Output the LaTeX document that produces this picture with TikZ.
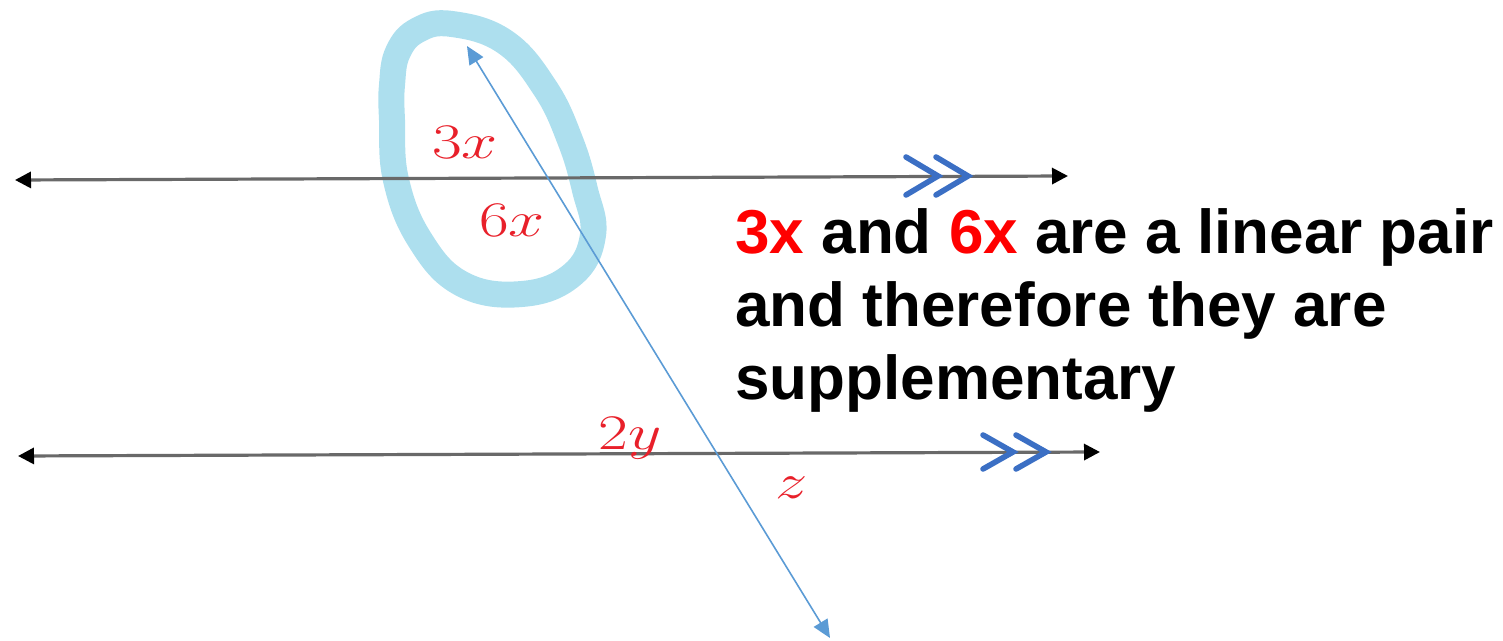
\documentclass[tikz,border=0pt]{standalone}
\usepackage{fontspec}
\newfontfamily\arialb{Liberation Sans}[BoldFont={Liberation Sans Bold}]
\usetikzlibrary{arrows.meta,calc}
\definecolor{hl}{RGB}{173,223,238}
\definecolor{tblue}{RGB}{91,155,213}
\definecolor{chev}{RGB}{59,111,196}
\definecolor{hred}{RGB}{232,32,42}
\definecolor{lgray}{RGB}{105,105,105}
\tikzset{
  parline/.style={lgray, line width=1.6pt, {Triangle[length=8pt,width=8pt,black]}-{Triangle[length=8pt,width=8pt,black]}},
  transv/.style={tblue, line width=0.8pt, {Triangle[length=9pt,width=8pt]}-{Triangle[length=9pt,width=8pt]}},
  chevron/.style={chev, line width=2.8pt, line cap=round, line join=miter},
  hand/.style={text=hred, font=\fontsize{38}{38}\selectfont, inner sep=0pt},
  highlight/.style={hl, line width=13pt, line join=round},
  body/.style={font=\arialb\bfseries\fontsize{31}{36.5}\selectfont, align=left, inner sep=0pt}
}
\newcommand{\hw}[1]{\scalebox{1.3}[1]{$#1$}}
\begin{document}
\begin{tikzpicture}[x=0.5pt,y=-0.5pt]
\useasboundingbox (0,0) rectangle (1503,641);
% highlight loop
\draw[highlight] plot[smooth cycle, tension=0.7] coordinates {
  (452,24) (505,42) (545,88) (570,140) (585,190) (593,235) (572,275)
  (522,294) (462,284) (420,240) (396,180) (392,120) (392,85) (398,52) (418,30)};
% coordinates
\coordinate (t1) at (15,180);
\coordinate (t2) at (1068,176);
\coordinate (b1) at (18,456);
\coordinate (b2) at (1100,452);
\coordinate (s1) at (467,46);
\coordinate (s2) at (830,638);
% parallel lines
\draw[parline] (t1) -- (t2);
\draw[parline] (b1) -- (b2);
% transversal
\draw[transv] (s1) -- (s2);
% chevrons
\coordinate (c1) at (938,176);
\coordinate (c2) at (968,176);
\coordinate (c3) at (1013,452);
\coordinate (c4) at (1046,452);
\foreach \c in {c1,c2} \draw[chevron] ($(\c)+(-32,-19)$) -- (\c) -- ($(\c)+(-32,19)$);
\foreach \c in {c3,c4} \draw[chevron] ($(\c)+(-30,-17)$) -- (\c) -- ($(\c)+(-30,17)$);
% handwritten labels
\node[hand] (l3x) at (465,142) {\hw{3x}};
\node[hand] (l6x) at (512,220) {\hw{6x}};
\node[hand] (l2y) at (630,438) {\hw{2y}};
\node[hand, font=\fontsize{30}{30}\selectfont] (lz) at (792,488) {\hw{z}};
% text
\node[body, anchor=base west] (txt) at (735,400) {\textcolor{red}{3x} and \textcolor{red}{6x} are a linear pair\\and therefore they are\\supplementary};
\end{tikzpicture}
\end{document}
